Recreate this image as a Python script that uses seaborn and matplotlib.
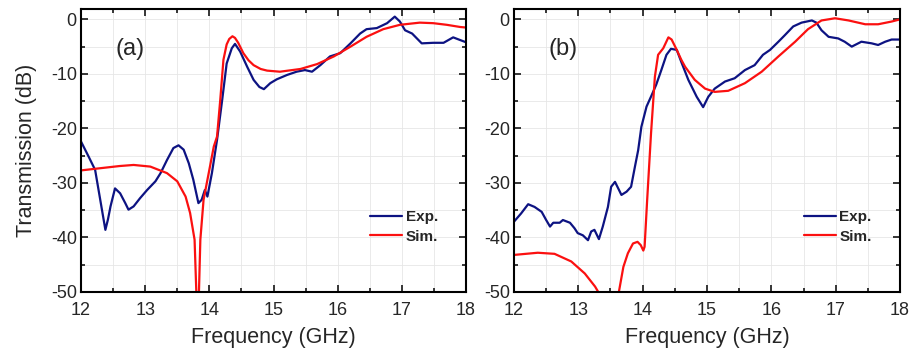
import numpy as np
import pandas as pd
import matplotlib
matplotlib.use("Agg")
import matplotlib.pyplot as plt
from matplotlib.ticker import MultipleLocator
import seaborn as sns

# ---- data ----
# panel (a)
a_exp_f = [12.00, 12.12, 12.22, 12.30, 12.38, 12.42, 12.46, 12.53, 12.61, 12.69, 12.74, 12.82,
           12.92, 13.03, 13.16, 13.24, 13.34, 13.44, 13.52, 13.60, 13.68, 13.75, 13.83, 13.88,
           13.93, 13.97, 14.04, 14.12, 14.20, 14.27, 14.35, 14.40, 14.48, 14.59, 14.69, 14.78,
           14.85, 14.95, 15.05, 15.21, 15.36, 15.49, 15.60, 15.73, 15.88, 16.04, 16.20, 16.35,
           16.45, 16.61, 16.77, 16.89, 16.97, 17.05, 17.16, 17.31, 17.49, 17.65, 17.80, 17.91,
           18.00]
a_exp_db = [-22.4, -25.2, -27.6, -33.1, -38.6, -36.7, -34.3, -31.0, -31.9, -33.7, -34.9, -34.3,
            -32.8, -31.3, -29.7, -28.2, -25.8, -23.6, -23.1, -23.9, -26.4, -29.4, -33.7, -33.1,
            -31.3, -32.5, -28.2, -22.1, -14.8, -8.1, -5.3, -4.5, -5.9, -8.7, -11.1, -12.4,
            -12.8, -11.7, -11.0, -10.2, -9.6, -9.3, -9.6, -8.4, -6.8, -6.2, -4.4, -2.6,
            -1.8, -1.6, -0.7, 0.5, -0.4, -2.0, -2.6, -4.4, -4.3, -4.3, -3.3, -3.8,
            -4.2]

a_sim_f = [12.00, 12.30, 12.60, 12.82, 13.08, 13.34, 13.50, 13.63, 13.70, 13.77, 13.82, 13.86,
           13.91, 14.00, 14.07, 14.12, 14.17, 14.22, 14.27, 14.31, 14.36, 14.40, 14.45, 14.53,
           14.61, 14.69, 14.80, 14.90, 15.10, 15.42, 15.68, 15.94, 16.20, 16.45, 16.71, 16.97,
           17.28, 17.49, 17.70, 17.91, 18.00]
a_sim_db = [-27.7, -27.3, -26.9, -26.7, -27.0, -28.2, -29.7, -32.5, -35.5, -40.4, -58.0, -40.4,
            -33.1, -27.6, -23.3, -21.5, -14.8, -7.4, -4.6, -3.6, -3.1, -3.4, -4.3, -6.2,
            -7.5, -8.4, -9.1, -9.4, -9.6, -9.1, -8.2, -6.8, -5.0, -3.2, -1.8, -1.0,
            -0.6, -0.7, -1.0, -1.4, -1.5]

# panel (b)
b_exp_f = [12.00, 12.11, 12.22, 12.32, 12.43, 12.50, 12.56, 12.61, 12.71, 12.76, 12.87, 12.94,
           12.99, 13.07, 13.15, 13.20, 13.25, 13.32, 13.38, 13.46, 13.51, 13.57, 13.62, 13.67,
           13.75, 13.82, 13.88, 13.93, 13.98, 14.06, 14.14, 14.21, 14.29, 14.37, 14.44, 14.53,
           14.60, 14.71, 14.84, 14.94, 15.02, 15.12, 15.28, 15.43, 15.59, 15.74, 15.87, 15.98,
           16.11, 16.21, 16.34, 16.47, 16.63, 16.70, 16.78, 16.89, 17.04, 17.14, 17.25, 17.40,
           17.56, 17.66, 17.77, 17.87, 18.00]
b_exp_db = [-37.1, -35.6, -33.9, -34.4, -35.3, -36.8, -38.0, -37.3, -37.3, -36.8, -37.3, -38.3,
            -39.2, -39.6, -40.5, -38.9, -38.6, -40.3, -38.0, -34.4, -30.7, -29.8, -31.0, -32.2,
            -31.6, -30.7, -27.0, -24.0, -19.7, -16.0, -13.9, -12.0, -9.3, -6.5, -5.4, -5.6,
            -7.8, -11.1, -14.2, -16.1, -14.2, -12.7, -11.4, -10.8, -9.3, -8.4, -6.5, -5.6,
            -4.1, -2.9, -1.3, -0.6, -0.2, -0.6, -2.0, -3.2, -3.5, -4.1, -5.0, -4.1,
            -4.4, -4.7, -4.1, -3.7, -3.7]

b_sim_f = [12.00, 12.37, 12.63, 12.89, 13.10, 13.26, 13.32, 13.48, 13.63, 13.70, 13.77, 13.85,
           13.92, 13.97, 14.01, 14.03, 14.07, 14.13, 14.19, 14.24, 14.32, 14.40, 14.45, 14.53,
           14.60, 14.66, 14.81, 14.97, 15.12, 15.33, 15.59, 15.85, 16.11, 16.37, 16.57, 16.78,
           16.99, 17.20, 17.46, 17.66, 17.87, 18.00]
b_sim_db = [-43.2, -42.8, -43.0, -44.4, -46.6, -49.0, -50.2, -62.0, -50.0, -45.4, -42.9, -41.1,
            -40.8, -41.4, -42.4, -41.7, -33.1, -20.9, -10.5, -6.5, -5.3, -3.3, -3.7, -5.6,
            -7.4, -8.7, -11.1, -12.7, -13.3, -13.1, -11.7, -9.6, -6.8, -4.1, -1.8, -0.2,
            0.2, -0.2, -0.9, -0.9, -0.4, 0.0]

series_names = ["Exp.", "Sim."]
panel_labels = ["(a)", "(b)"]

colors = {"Exp.": "#0d1382", "Sim.": "#fb1010"}

sns.set_style("ticks")
plt.rcParams['font.family'] = ['Liberation Sans', 'DejaVu Sans']
plt.rcParams['axes.unicode_minus'] = False


def make_df(ef, edb, sf, sdb):
    d1 = pd.DataFrame({"freq": ef, "dB": edb, "series": "Exp."})
    d2 = pd.DataFrame({"freq": sf, "dB": sdb, "series": "Sim."})
    return pd.concat([d1, d2], ignore_index=True)


dfs = [make_df(a_exp_f, a_exp_db, a_sim_f, a_sim_db),
       make_df(b_exp_f, b_exp_db, b_sim_f, b_sim_db)]

fig = plt.figure(figsize=(9.12, 3.5), dpi=100)
ax1 = fig.add_axes([81 / 912, 58 / 350, 385 / 912, 283 / 350])
ax2 = fig.add_axes([514 / 912, 58 / 350, 386 / 912, 283 / 350])

for ax, df, lab in zip([ax1, ax2], dfs, panel_labels):
    ax.set_axisbelow(True)
    sns.lineplot(data=df, x="freq", y="dB", hue="series", hue_order=series_names,
                 palette=colors, estimator=None, linewidth=1.6, legend=False, ax=ax)
    ax.set_xlim(12, 18)
    ax.set_ylim(-50, 1.9)
    ax.xaxis.set_major_locator(MultipleLocator(1))
    ax.xaxis.set_minor_locator(MultipleLocator(0.5))
    ax.yaxis.set_major_locator(MultipleLocator(10))
    ax.yaxis.set_minor_locator(MultipleLocator(5))
    ax.grid(which='both', color='#e6e6e6', linewidth=0.6)
    ax.tick_params(which='both', direction='in', top=True, right=True, width=1.3)
    ax.tick_params(which='major', length=5, labelsize=13, pad=3)
    ax.tick_params(axis='x', which='major', pad=7)
    ax.tick_params(which='minor', length=3)
    for sp in ax.spines.values():
        sp.set_linewidth(1.5)
        sp.set_color('black')
    ax.set_xlabel('Frequency (GHz)', fontsize=15.5, labelpad=6)
    ax.set_ylabel('')
    ax.text(12.76, -5.5, lab, fontsize=17, ha='center', va='center')
    ax.legend(handles=ax.lines[:2], labels=series_names, loc='center left',
              bbox_to_anchor=(0.75, 0.23), frameon=False, borderpad=0, borderaxespad=0,
              handlelength=2.1, handletextpad=0.25, labelspacing=0.35,
              prop={'weight': 'bold', 'size': 11})

ax1.set_ylabel('Transmission (dB)', fontsize=15.5, labelpad=10)

fig.savefig("out.png", dpi=100)
